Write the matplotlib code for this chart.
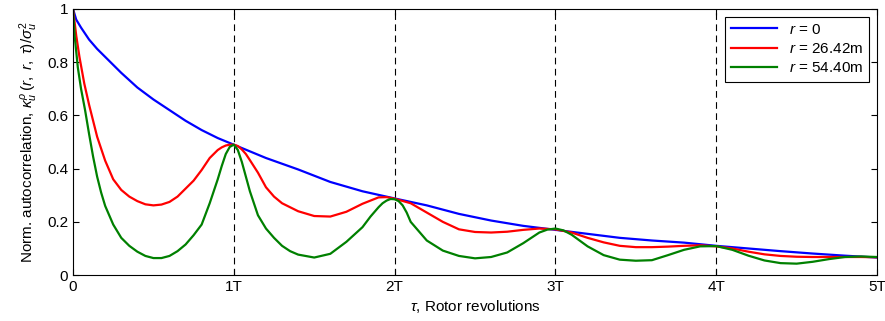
import numpy as np
import matplotlib.pyplot as plt

plt.rcParams['font.family'] = ['Liberation Sans', 'DejaVu Sans']
plt.rcParams['mathtext.fontset'] = 'custom'
plt.rcParams['mathtext.it'] = 'Liberation Sans:italic'
plt.rcParams['mathtext.rm'] = 'Liberation Sans'

# r = 0
tau_b = [0, 0.02, 0.05, 0.1, 0.15, 0.2, 0.3, 0.4, 0.5, 0.6, 0.7, 0.8, 0.9,
         1.0, 1.2, 1.4, 1.6, 1.8, 2.0, 2.2, 2.4, 2.6, 2.8, 3.0, 3.2, 3.4,
         3.6, 3.8, 4.0, 4.2, 4.4, 4.6, 4.8, 5.0]
val_b = [1.0, 0.96, 0.93, 0.885, 0.85, 0.82, 0.76, 0.705, 0.66, 0.62, 0.58,
         0.545, 0.515, 0.49, 0.44, 0.397, 0.35, 0.315, 0.288, 0.262, 0.23,
         0.205, 0.185, 0.17, 0.155, 0.14, 0.13, 0.122, 0.11, 0.1, 0.09,
         0.081, 0.073, 0.066]

# r = 26.42m
tau_r = [0, 0.02, 0.04, 0.07, 0.1, 0.15, 0.2, 0.25, 0.3, 0.35, 0.4, 0.45,
         0.5, 0.55, 0.6, 0.65, 0.7, 0.75, 0.8, 0.85, 0.9, 0.925, 0.95, 0.975,
         1.0, 1.025, 1.05, 1.075, 1.1, 1.15, 1.2, 1.25, 1.3, 1.35, 1.4, 1.5,
         1.6, 1.7, 1.8, 1.9, 1.95, 2.0, 2.1, 2.2, 2.3, 2.4, 2.5, 2.6, 2.7,
         2.8, 2.9, 3.0, 3.1, 3.2, 3.3, 3.4, 3.5, 3.6, 3.7, 3.8, 3.9, 4.0,
         4.1, 4.2, 4.3, 4.4, 4.5, 4.6, 4.7, 4.8, 4.9, 5.0]
val_r = [1.0, 0.9, 0.82, 0.72, 0.64, 0.52, 0.43, 0.36, 0.32, 0.295, 0.278,
         0.266, 0.262, 0.265, 0.275, 0.295, 0.325, 0.355, 0.395, 0.44, 0.47,
         0.48, 0.487, 0.49, 0.49, 0.485, 0.472, 0.455, 0.432, 0.385, 0.33,
         0.295, 0.27, 0.255, 0.24, 0.222, 0.22, 0.238, 0.268, 0.292, 0.293,
         0.287, 0.27, 0.235, 0.2, 0.172, 0.162, 0.16, 0.163, 0.17, 0.175,
         0.172, 0.16, 0.14, 0.123, 0.11, 0.105, 0.105, 0.107, 0.11, 0.112,
         0.108, 0.1, 0.088, 0.078, 0.072, 0.069, 0.068, 0.068, 0.068, 0.068,
         0.067]

# r = 54.40m
tau_g = [0, 0.01, 0.03, 0.05, 0.075, 0.1, 0.125, 0.15, 0.175, 0.2, 0.25,
         0.3, 0.35, 0.4, 0.45, 0.5, 0.55, 0.6, 0.65, 0.7, 0.75, 0.8, 0.85,
         0.9, 0.925, 0.95, 0.975, 1.0, 1.025, 1.05, 1.075, 1.1, 1.15, 1.2,
         1.25, 1.3, 1.35, 1.4, 1.5, 1.6, 1.7, 1.8, 1.85, 1.9, 1.925, 1.95,
         1.975, 2.0, 2.025, 2.05, 2.075, 2.1, 2.2, 2.3, 2.4, 2.5, 2.6, 2.7,
         2.8, 2.9, 2.95, 3.0, 3.05, 3.1, 3.2, 3.3, 3.4, 3.5, 3.6, 3.7, 3.8,
         3.9, 4.0, 4.1, 4.2, 4.3, 4.4, 4.5, 4.6, 4.7, 4.8, 4.9, 5.0]
val_g = [1.0, 0.9, 0.78, 0.7, 0.62, 0.53, 0.445, 0.37, 0.31, 0.26, 0.19,
         0.14, 0.11, 0.088, 0.072, 0.064, 0.064, 0.072, 0.09, 0.115, 0.15,
         0.19, 0.27, 0.36, 0.41, 0.455, 0.482, 0.49, 0.47, 0.425, 0.37,
         0.315, 0.225, 0.175, 0.14, 0.11, 0.09, 0.077, 0.066, 0.08, 0.125,
         0.18, 0.22, 0.255, 0.27, 0.28, 0.286, 0.285, 0.278, 0.262, 0.235,
         0.2, 0.13, 0.092, 0.072, 0.063, 0.068, 0.085, 0.12, 0.16, 0.171,
         0.175, 0.168, 0.152, 0.108, 0.075, 0.058, 0.054, 0.056, 0.075,
         0.095, 0.108, 0.109, 0.095, 0.073, 0.055, 0.045, 0.043, 0.05, 0.06,
         0.068, 0.07, 0.068]

xticks = [0, 1, 2, 3, 4, 5]
xtick_labels = ['0', '1T', '2T', '3T', '4T', '5T']
yticks = [0, 0.2, 0.4, 0.6, 0.8, 1]

fig = plt.figure(figsize=(8.85, 3.21), dpi=100)
ax = fig.add_axes([0.0825, 0.143, 0.9085, 0.829])

for t in [1, 2, 3, 4]:
    ax.axvline(t, color='k', linestyle=(0, (6, 4)), linewidth=0.8, zorder=1)

ax.plot(tau_b, val_b, color='#0000ff', linewidth=1.6, label='$r$ = 0')
ax.plot(tau_r, val_r, color='#ff0000', linewidth=1.6, label='$r$ = 26.42m')
ax.plot(tau_g, val_g, color='#008000', linewidth=1.6, label='$r$ = 54.40m')

ax.set_xlim(0, 5)
ax.set_ylim(0, 1)
ax.set_xticks(xticks)
ax.set_xticklabels(xtick_labels)
ax.set_yticks(yticks)
ax.set_yticklabels(['0', '0.2', '0.4', '0.6', '0.8', '1'])
ax.tick_params(direction='in', top=True, right=True, labelsize=11, length=4)
ax.set_xlabel(r'$\tau$, Rotor revolutions', fontsize=11, labelpad=3)
ax.set_ylabel(r'Norm. autocorrelation, $\kappa_u^{\rho}\,(r,\ r,\ \tau)/\sigma_u^2$',
              fontsize=11, labelpad=5)

leg = ax.legend(loc='upper right', fontsize=11, fancybox=False, framealpha=1,
                edgecolor='k', borderaxespad=0.5, handlelength=3.0,
                labelspacing=0.35)
leg.get_frame().set_linewidth(0.8)

fig.savefig('out.png', dpi=100)
